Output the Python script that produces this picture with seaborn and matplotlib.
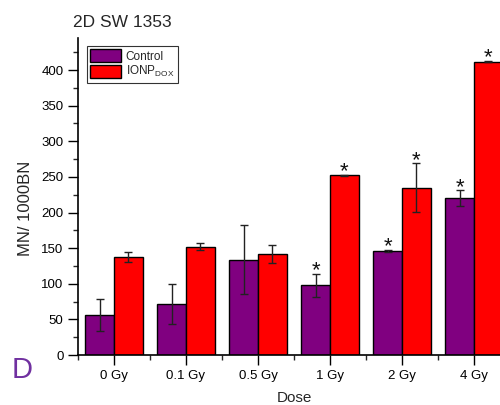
import matplotlib
matplotlib.use("Agg")
import matplotlib.pyplot as plt
import seaborn as sns
import pandas as pd
import numpy as np
from matplotlib.ticker import MultipleLocator, FixedLocator

sns.set_style("ticks")
plt.rcParams['font.family'] = ['Liberation Sans', 'DejaVu Sans']
plt.rcParams['mathtext.fontset'] = 'custom'
plt.rcParams['mathtext.rm'] = 'Liberation Sans'

doses = ["0 Gy", "0.1 Gy", "0.5 Gy", "1 Gy", "2 Gy", "4 Gy"]
control = [56, 72, 134, 98, 146, 220]
control_err = [22, 28, 49, 16, 2, 11]
ionp = [137, 152, 142, 252, 235, 412]
ionp_err = [7, 5, 13, 1, 34, 1]
control_sig = [False, False, False, True, True, True]
ionp_sig = [False, False, False, True, True, True]
groups = ["Control", "IONP$_{\\mathregular{DOX}}$"]
colors = ["#800080", "#FF0000"]

df = pd.DataFrame({
    "Dose": doses * 2,
    "value": control + ionp,
    "group": [groups[0]] * len(doses) + [groups[1]] * len(doses),
})

fig = plt.figure(figsize=(5.0, 4.05), dpi=100)
ax = fig.add_axes([78/500, 50/405, 432/500, 317/405])

sns.barplot(data=df, x="Dose", y="value", hue="group", order=doses,
            hue_order=groups, palette=colors, errorbar=None, saturation=1,
            edgecolor="black", linewidth=1.0, width=0.8, ax=ax)

errs = [control_err, ionp_err]
sigs = [control_sig, ionp_sig]
vals = [control, ionp]
bar_conts = list(ax.containers)
for k, cont in enumerate(bar_conts):
    for i, bar in enumerate(cont.patches):
        xc = bar.get_x() + bar.get_width() / 2
        ax.errorbar(xc, vals[k][i], yerr=errs[k][i], fmt="none",
                    ecolor="#222222", elinewidth=1.0, capsize=3, capthick=1.0,
                    zorder=5)
        if sigs[k][i]:
            ax.annotate("*", (xc, vals[k][i] + errs[k][i]),
                        xytext=(0, -2), textcoords="offset points",
                        ha="center", va="baseline", fontsize=16,
                        color="#111111")

ax.set_xlim(-0.5, 5.5)
ax.set_ylim(0, 445)
ax.yaxis.set_major_locator(FixedLocator([0, 50, 100, 150, 200, 250, 300, 350, 400]))
ax.yaxis.set_minor_locator(MultipleLocator(25))
ax.xaxis.set_minor_locator(FixedLocator(np.arange(-0.5, 6.0, 1.0)))
ax.tick_params(axis="both", which="major", direction="out", length=7,
               width=1.0, labelsize=9.5, colors="black")
ax.tick_params(axis="both", which="minor", direction="out", length=3.5,
               width=1.0)
ax.tick_params(axis="x", which="major", pad=4)
for s in ["top", "right"]:
    ax.spines[s].set_visible(False)
for s in ["left", "bottom"]:
    ax.spines[s].set_linewidth(1.2)
    ax.spines[s].set_color("black")

ax.set_xlabel("Dose", fontsize=11, labelpad=6)
ax.set_ylabel("MN/ 1000BN", fontsize=12)
ax.yaxis.set_label_coords(-0.104, 0.464)
ax.set_title("2D SW 1353", fontsize=12.5, loc="left", x=-0.012, pad=8)

leg = ax.legend(loc="upper left", bbox_to_anchor=(0.02, 0.975), fontsize=8.5,
                frameon=True, fancybox=False, edgecolor="black",
                handlelength=2.6, handleheight=1.3, handletextpad=0.4,
                borderpad=0.3, labelspacing=0.1, borderaxespad=0)
leg.get_frame().set_linewidth(0.8)

fig.text(12/500, 1 - 384/405, "D", fontsize=21, color="#7030A0",
         ha="left", va="bottom")

fig.savefig("out.png", dpi=100)
